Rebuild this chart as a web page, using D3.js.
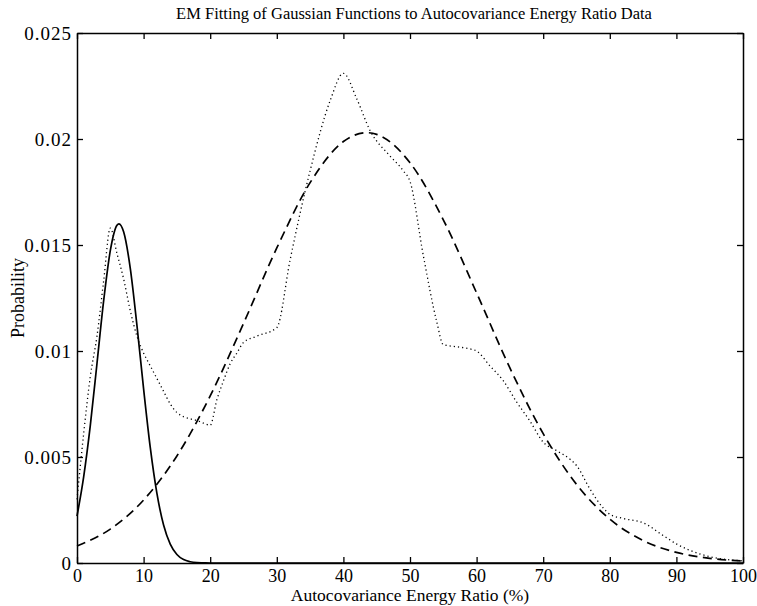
<!DOCTYPE html>
<html>
<head>
<meta charset="utf-8">
<script src="https://cdn.jsdelivr.net/npm/d3@7"></script>
<style>
  body { margin: 0; background: #fff; }
  svg { display: block; }
  text { font-family: "Liberation Serif", "Times New Roman", serif; fill: #000; }
</style>
</head>
<body>
<svg id="chart" width="757" height="606"></svg>
<script>
// ---- data ----
const title = "EM Fitting of Gaussian Functions to Autocovariance Energy Ratio Data";
const xLabel = "Autocovariance Energy Ratio (%)";
const yLabel = "Probability";

const xTicks = [0, 10, 20, 30, 40, 50, 60, 70, 80, 90, 100];
const yTicks = [0, 0.005, 0.01, 0.015, 0.02, 0.025];
const yTickLabels = ["0", "0.005", "0.01", "0.015", "0.02", "0.025"];

// empirical data (dotted)
const dataX = [0, 1, 2, 3, 4, 5, 6, 7, 8, 9, 10, 11, 12, 13, 14, 15, 16, 17, 18, 19, 20,
  21, 22, 23, 24, 25, 27, 30, 32, 35, 38, 40, 42, 44, 47, 49, 50, 52, 54, 55, 57, 59, 60,
  62, 64, 66, 68, 70, 72, 74, 75, 77, 79, 80, 82, 85, 88, 90, 92, 95, 100];
const dataY = [0.0030, 0.0061, 0.0088, 0.0107, 0.0133, 0.0158, 0.0146, 0.0134, 0.0119, 0.0107,
  0.0099, 0.0093, 0.0087, 0.0081, 0.0075, 0.0071, 0.0069, 0.0068, 0.00672, 0.0066, 0.0065,
  0.0077, 0.0086, 0.0094, 0.0099, 0.0104, 0.0107, 0.0111, 0.0143, 0.0185, 0.0218, 0.0231,
  0.0219, 0.0204, 0.0192, 0.0185, 0.0180, 0.0145, 0.0114, 0.0103, 0.0102, 0.0101, 0.0100,
  0.0093, 0.0086, 0.0076, 0.0067, 0.0057, 0.0053, 0.0049, 0.0046, 0.0035, 0.0026, 0.0023,
  0.0021, 0.0019, 0.0013, 0.0009, 0.0006, 0.0003, 0.0001];

// first fitted component (solid)
const comp1X = [0, 1, 2, 3, 4, 5, 6, 6.3, 7, 8, 9, 10, 11, 12, 13, 14, 15, 16, 17, 18, 19, 20, 100];
const comp1Y = [0.00221, 0.00406, 0.00649, 0.00941, 0.01236, 0.01473, 0.01593, 0.0160, 0.01562,
  0.0139, 0.01121, 0.00821, 0.00545, 0.00328, 0.00179, 0.00089, 0.0004, 0.00016, 0.00006,
  0.00002, 0.00001, 0, 0];

// second fitted component (dashed)
const comp2X = [0, 5, 10, 15, 20, 25, 30, 35, 40, 43.5, 45, 50, 55, 60, 65, 70, 75, 80, 85, 90, 95, 100];
const comp2Y = [0.0008, 0.0016, 0.00297, 0.00505, 0.00788, 0.0113, 0.01486, 0.01794, 0.01988,
  0.0203, 0.02022, 0.01888, 0.01619, 0.01274, 0.0092, 0.0061, 0.00371, 0.00207, 0.00106,
  0.0005, 0.00022, 0.00009];

// ---- layout ----
const svg = d3.select("#chart");
const m = { left: 77, right: 743, top: 33, bottom: 563 };

const x = d3.scaleLinear().domain([0, 100]).range([m.left, m.right]);
const y = d3.scaleLinear().domain([0, 0.025]).range([m.bottom, m.top]);

// lines
const line = d3.line().x(d => x(d[0])).y(d => y(d[1])).curve(d3.curveMonotoneX);

const g = svg.append("g");
g.append("path")
  .datum(d3.zip(dataX, dataY))
  .attr("d", line)
  .attr("fill", "none").attr("stroke", "#000").attr("stroke-width", 1.3)
  .attr("stroke-dasharray", "1.2,3");

g.append("path")
  .datum(d3.zip(comp2X, comp2Y))
  .attr("d", line)
  .attr("fill", "none").attr("stroke", "#000").attr("stroke-width", 1.7)
  .attr("stroke-dasharray", "9,5.5");

g.append("path")
  .datum(d3.zip(comp1X, comp1Y))
  .attr("d", line)
  .attr("fill", "none").attr("stroke", "#000").attr("stroke-width", 1.7);

// axes (inward ticks on all four sides)
const tickLen = 6;
const fmtY = d => yTickLabels[yTicks.indexOf(d)];

const xAxisB = d3.axisBottom(x).tickValues(xTicks).tickSizeInner(-tickLen).tickSizeOuter(0).tickPadding(6);
const xAxisT = d3.axisTop(x).tickValues(xTicks).tickSizeInner(-tickLen).tickSizeOuter(0).tickFormat("");
const yAxisL = d3.axisLeft(y).tickValues(yTicks).tickSizeInner(-tickLen).tickSizeOuter(0).tickPadding(5).tickFormat(fmtY);
const yAxisR = d3.axisRight(y).tickValues(yTicks).tickSizeInner(-tickLen).tickSizeOuter(0).tickFormat("");

function style(sel, size, spacing) {
  sel.select(".domain").attr("stroke", "#000").attr("stroke-width", 1.5);
  sel.selectAll(".tick line").attr("stroke", "#000").attr("stroke-width", 1.3);
  sel.selectAll(".tick text")
    .attr("font-family", "Liberation Serif, serif")
    .attr("font-size", size)
    .attr("letter-spacing", spacing)
    .attr("fill", "#000");
}

svg.append("g").attr("transform", `translate(0,${m.bottom})`).call(xAxisB).call(style, 18, 0);
svg.append("g").attr("transform", `translate(0,${m.top})`).call(xAxisT).call(style, 18, 0);
svg.append("g").attr("transform", `translate(${m.left},0)`).call(yAxisL).call(style, 19, 1);
svg.append("g").attr("transform", `translate(${m.right},0)`).call(yAxisR).call(style, 18, 0);

// title and labels
svg.append("text")
  .attr("x", (m.left + m.right) / 2 + 4).attr("y", 19)
  .attr("text-anchor", "middle").attr("font-size", 16.5)
  .text(title);

svg.append("text")
  .attr("x", (m.left + m.right) / 2).attr("y", 601)
  .attr("text-anchor", "middle").attr("font-size", 17.5)
  .text(xLabel);

svg.append("text")
  .attr("transform", `translate(24,${(m.top + m.bottom) / 2}) rotate(-90)`)
  .attr("text-anchor", "middle").attr("font-size", 18)
  .text(yLabel);
</script>
</body>
</html>
